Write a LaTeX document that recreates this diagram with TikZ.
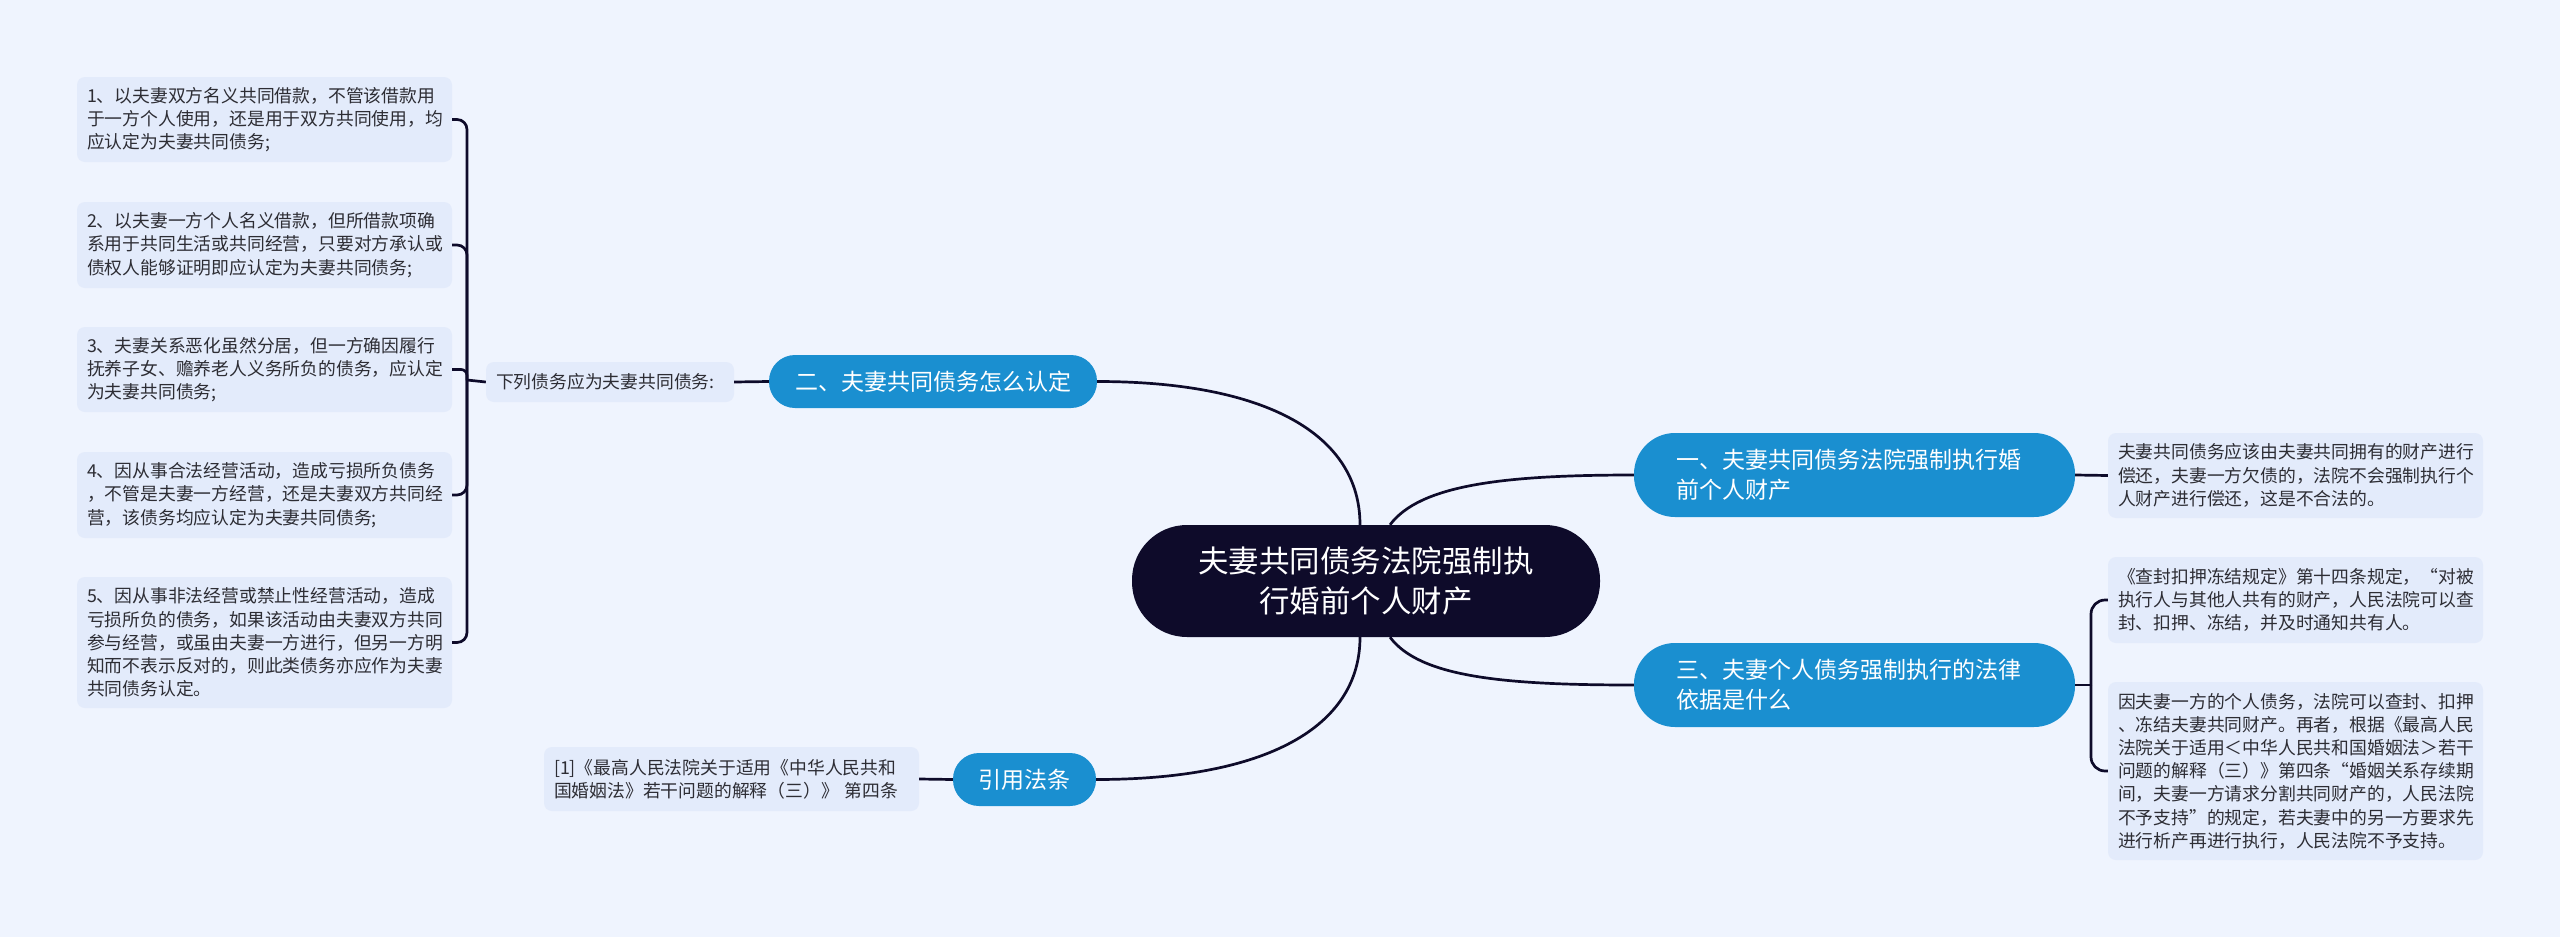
\documentclass[tikz,border=0pt]{standalone}
\usepackage{fontspec}
\setmainfont{Noto Sans CJK SC}
\usetikzlibrary{calc}
\definecolor{bgc}{RGB}{239,244,254}
\definecolor{leafc}{RGB}{227,235,251}
\definecolor{bluec}{RGB}{26,143,208}
\definecolor{navy}{RGB}{14,11,42}
\definecolor{txtc}{RGB}{45,45,52}
\begin{document}
\begin{tikzpicture}[x=1pt,y=-1pt,
  leaf/.style={fill=leafc, rounded corners=8pt, inner xsep=10pt, inner ysep=0pt,
    text width=355pt, align=left, text=txtc, font=\fontsize{17.8}{23.2}\selectfont},
  branch/.style={fill=bluec, text=white, inner sep=0pt, align=center,
    minimum height=53pt, rounded corners=26pt, font=\fontsize{23}{30}\selectfont},
  bigbranch/.style={fill=bluec, text=white, inner xsep=42pt, inner ysep=0pt,
    text width=357pt, align=left, minimum height=84pt, rounded corners=41pt,
    font=\fontsize{23}{30}\selectfont},
  rootbox/.style={fill=navy, text=white, inner sep=0pt, align=center,
    minimum width=468pt, minimum height=112pt, rounded corners=55pt,
    font=\fontsize{30.5}{40}\selectfont},
  conn/.style={draw=navy, line width=2.7pt},
]
\useasboundingbox (0,0) rectangle (2560,937);
\fill[bgc] (0,0) rectangle (2560,937);

% root
\node[rootbox] (c) at (1366,581) {夫妻共同债务法院强制执\\行婚前个人财产};

% branches
\node[branch, minimum width=328pt] (b2) at (933,381.5) {二、夫妻共同债务怎么认定};
\node[branch, minimum width=143pt] (b4) at (1024.5,779.5) {引用法条};
\node[bigbranch] (b1) at (1854.5,475) {一、夫妻共同债务法院强制执行婚\\前个人财产};
\node[bigbranch] (b3) at (1854.5,685) {三、夫妻个人债务强制执行的法律\\依据是什么};

% left side
\node[leaf, text width=228pt, minimum height=40pt] (t0) at (610,382) {下列债务应为夫妻共同债务:};
\node[leaf, minimum height=85pt] (L1) at (264.5,119.5) {1、以夫妻双方名义共同借款，不管该借款用\\于一方个人使用，还是用于双方共同使用，均\\应认定为夫妻共同债务;};
\node[leaf, minimum height=86pt] (L2) at (264.5,245) {2、以夫妻一方个人名义借款，但所借款项确\\系用于共同生活或共同经营，只要对方承认或\\债权人能够证明即应认定为夫妻共同债务;};
\node[leaf, minimum height=85pt] (L3) at (264.5,369.5) {3、夫妻关系恶化虽然分居，但一方确因履行\\抚养子女、赡养老人义务所负的债务，应认定\\为夫妻共同债务;};
\node[leaf, minimum height=86pt] (L4) at (264.5,495) {4、因从事合法经营活动，造成亏损所负债务\\，不管是夫妻一方经营，还是夫妻双方共同经\\营，该债务均应认定为夫妻共同债务;};
\node[leaf, minimum height=131pt] (L5) at (264.5,642.5) {5、因从事非法经营或禁止性经营活动，造成\\亏损所负的债务，如果该活动由夫妻双方共同\\参与经营，或虽由夫妻一方进行，但另一方明\\知而不表示反对的，则此类债务亦应作为夫妻\\共同债务认定。};
\node[leaf, minimum height=64pt] (cit) at (731.5,779) {[1]《最高人民法院关于适用《中华人民共和\\国婚姻法》若干问题的解释（三）》 第四条};

% right side
\node[leaf, minimum height=85pt] (R1) at (2295.5,475.5) {夫妻共同债务应该由夫妻共同拥有的财产进行\\偿还，夫妻一方欠债的，法院不会强制执行个\\人财产进行偿还，这是不合法的。};
\node[leaf, minimum height=86pt] (Ra) at (2295.5,600) {《查封扣押冻结规定》第十四条规定，“对被\\执行人与其他人共有的财产，人民法院可以查\\封、扣押、冻结，并及时通知共有人。};
\node[leaf, minimum height=178pt] (Rb) at (2295.5,771) {因夫妻一方的个人债务，法院可以查封、扣押\\、冻结夫妻共同财产。再者，根据《最高人民\\法院关于适用＜中华人民共和国婚姻法＞若干\\问题的解释（三）》第四条“婚姻关系存续期\\间，夫妻一方请求分割共同财产的，人民法院\\不予支持”的规定，若夫妻中的另一方要求先\\进行析产再进行执行，人民法院不予支持。};

% junctions
\coordinate (jL) at (467,380);
\coordinate (jR) at (2091,685);

% root connectors
\draw[conn] ($(c.north)+(-6,0)$) .. controls +(0,-90) and +(170,0) .. (b2.east);
\draw[conn] ($(c.south)+(-6,0)$) .. controls +(0,90) and +(170,0) .. (b4.east);
\draw[conn] ($(c.north)+(24,0)$) .. controls +(30,-40) and +(-130,0) .. (b1.west);
\draw[conn] ($(c.south)+(24,0)$) .. controls +(30,40) and +(-130,0) .. (b3.west);

% left
\draw[conn] (b2.west) -- (t0.east);
\draw[conn] (t0.west) -- (jL);
\draw[conn, rounded corners=10pt] (jL) |- (L1.east);
\draw[conn, rounded corners=10pt] (jL) |- (L2.east);
\draw[conn, rounded corners=6pt] (jL) |- (L3.east);
\draw[conn, rounded corners=10pt] (jL) |- (L4.east);
\draw[conn, rounded corners=10pt] (jL) |- (L5.east);
\draw[conn] (b4.west) -- (cit.east);

% right
\draw[conn] (b1.east) -- (R1.west);
\draw[conn] (b3.east) -- (jR);
\draw[conn, rounded corners=14pt] (jR) |- (Ra.west);
\draw[conn, rounded corners=14pt] (jR) |- (Rb.west);
\end{tikzpicture}
\end{document}
